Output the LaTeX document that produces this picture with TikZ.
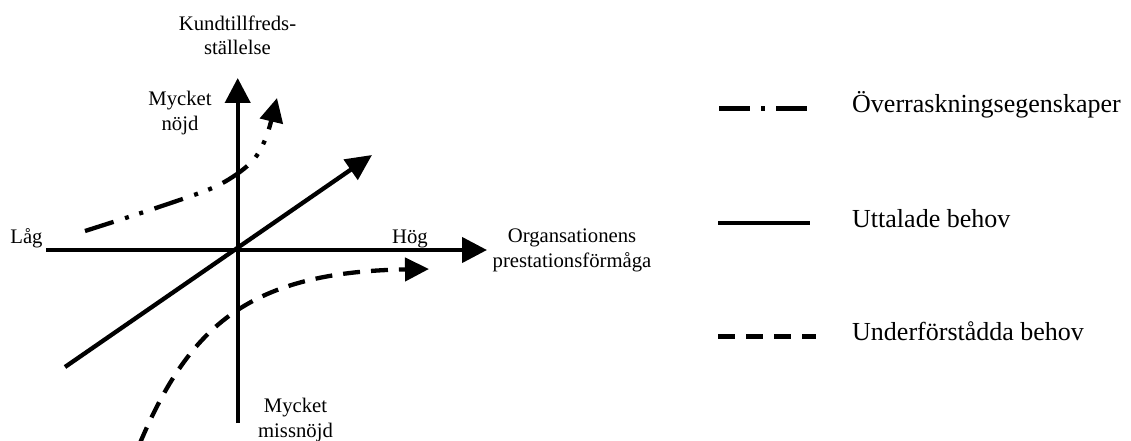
\documentclass[tikz,border=0pt]{standalone}
\usepackage{fontspec}
\setmainfont{Liberation Serif}
\usetikzlibrary{arrows.meta}
\tikzset{
  curve/.style={line width=4.3pt},
  axis/.style={curve, -{Triangle[length=25pt,width=25pt]}},
  bigtip/.style={-{Triangle[length=24pt,width=23pt]}},
  surprise/.style={curve, dash pattern=on 30pt off 12pt on 4pt off 11pt on 4pt off 12pt},
  implied/.style={curve, dash pattern=on 17pt off 11pt},
  axlabel/.style={font=\fontsize{20.7}{24.5}\selectfont, align=center, anchor=base, inner sep=0pt},
  legtext/.style={font=\fontsize{26}{30}\selectfont, anchor=base west, inner sep=0pt},
}
\begin{document}
\begin{tikzpicture}[x=1pt,y=-1pt]
\useasboundingbox (0,0) rectangle (1131,441);

% axes
\coordinate (O) at (237.7,250);
\coordinate (ytop) at (237.7,78);
\coordinate (ybot) at (237.7,423);
\coordinate (xleft) at (46,250);
\coordinate (xright) at (487,250);
\draw[axis] (ybot) -- (ytop);
\draw[axis] (xleft) -- (xright);

% stated needs: straight line through the origin
\coordinate (s0) at (65,367);
\coordinate (s1) at (372,155);
\draw[curve, -{Triangle[length=26pt,width=24pt]}] (s0) -- (s1);

% surprise features
\draw[surprise, bigtip] plot[smooth, tension=0.5] coordinates
  {(85,231) (150,210) (210,189) (237,174) (255,158) (267,135) (277,98)};

% implied needs
\coordinate (d0) at (140,443);
\coordinate (d1) at (429,269);
\draw[implied, bigtip] (d0) .. controls (190,325) and (250,272) .. (d1);

% axis labels (placed at the baseline of their last line)
\node[axlabel] (ylab) at (237.5,55) {Kundtillfreds-\\ställelse};
\node[axlabel] (top) at (180,130) {Mycket\\nöjd};
\node[axlabel] (low) at (26.5,243) {Låg};
\node[axlabel] (high) at (410,243) {Hög};
\node[axlabel] (xlab) at (572,267) {Organsationens\\prestationsförmåga};
\node[axlabel] (bottom) at (295.5,437) {Mycket\\missnöjd};

% legend
\coordinate (l1a) at (719,108.5);
\coordinate (l1b) at (807,108.5);
\draw[curve, dash pattern=on 31pt off 11pt on 4pt off 11pt on 40pt off 10pt] (l1a) -- (l1b);
\node[legtext] (t1) at (852,113) {Överraskningsegenskaper};

\coordinate (l2a) at (718,223);
\coordinate (l2b) at (810,223);
\draw[curve] (l2a) -- (l2b);
\node[legtext] (t2) at (852,227) {Uttalade behov};

\coordinate (l3a) at (718,336.5);
\coordinate (l3b) at (816,336.5);
\draw[implied] (l3a) -- (l3b);
\node[legtext] (t3) at (852,340) {Underförstådda behov};
\end{tikzpicture}
\end{document}
